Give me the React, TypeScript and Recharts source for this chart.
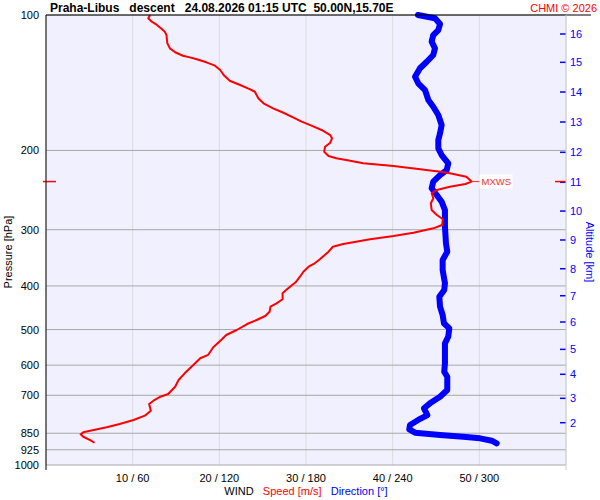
import { CartesianGrid, ReferenceDot, Scatter, ScatterChart, XAxis, YAxis } from "recharts";

const FONT = "'Liberation Sans', Arial, Helvetica, sans-serif";

// axes
const PRESSURE_TICKS = [100, 200, 300, 400, 500, 600, 700, 850, 925, 1000];
const SPEED_TICKS = [10, 20, 30, 40, 50];
const WIND_TICK_LABELS = ["10 / 60", "20 / 120", "30 / 180", "40 / 240", "50 / 300"];
const ALT_KM = [2, 3, 4, 5, 6, 7, 8, 9, 10, 11, 12, 13, 14, 15, 16];
const ALT_P = [805.4, 710.9, 628.7, 553.4, 481.1, 420.6, 366.3, 316.2, 272.7, 235.4, 201.9, 172.9, 148.3, 127.4, 110.2];

// wind speed [m/s] vs pressure [hPa]
const SPEED_P = [
  100, 101.7, 103.5, 105.2, 107.6, 108.9, 110.8, 115.6, 118.6, 121.0, 123.2, 124.2, 125.4, 127.4,
  129.6, 132.5, 135.9, 140.0, 143.1, 146.1, 148.1, 153.1, 157.1, 161.2, 164.9, 168.8, 172.6, 176.4,
  180.1, 184.8, 187.9, 192.2, 196.2, 201.3, 205.8, 208.2, 210.8, 213.6, 216.6, 220.2, 222.9, 224.8,
  228.8, 234.5, 237.5, 240.8, 244.8, 249.0, 255.5, 262.1, 271.3, 278.3, 284.4, 292.9, 297.9, 304.7,
  309.9, 315.1, 322.8, 327.3, 335.7, 349.1, 356.3, 362.6, 372.0, 381.6, 392.6, 407.0, 415.4, 428.3,
  437.2, 444.9, 456.4, 466.6, 476.2, 486.1, 501.2, 514.2, 525.7, 547.3, 569.4, 579.1, 599.5, 625.5,
  647.4, 669.9, 695.4, 705.1, 719.7, 731.9, 757.4, 777.0, 794.3, 810.7, 824.5, 836.0, 845.9, 854.7,
  865.3, 880.1, 892.3,
];
const SPEED_MS = [
  12.0, 11.8, 12.2, 12.8, 13.4, 13.7, 13.9, 14.0, 14.3, 14.9, 15.8, 16.6, 17.4, 18.5,
  19.5, 20.1, 20.5, 21.2, 22.4, 23.5, 24.1, 24.5, 25.1, 26.2, 27.4, 28.5, 29.5, 30.7,
  31.8, 32.8, 33.0, 32.8, 32.2, 32.1, 32.6, 33.5, 35.1, 36.6, 40.1, 43.2, 45.5, 46.6,
  48.5, 49.1, 48.4, 46.6, 45.1, 44.5, 44.7, 44.4, 44.5, 45.1, 45.8, 45.7, 44.7, 42.4,
  40.1, 37.4, 34.3, 33.1, 32.6, 31.6, 31.0, 30.3, 29.7, 29.3, 28.8, 27.8, 27.3, 27.3,
  26.6, 25.9, 25.8, 25.3, 24.3, 23.2, 22.0, 20.8, 20.3, 19.3, 18.7, 17.8, 17.0, 16.0,
  15.3, 14.9, 14.1, 13.2, 12.4, 11.9, 12.1, 11.4, 10.1, 8.5, 7.0, 5.5, 4.3, 4.0,
  4.3, 5.1, 5.6,
];

// wind direction [deg] vs pressure [hPa]
const DIR_P = [
  100, 101.7, 104.7, 108.0, 110.8, 114.6, 118.6, 122.7, 127.0, 131.3, 137.1, 141.8, 146.8, 154.5,
  159.9, 166.8, 175.6, 183.2, 189.6, 197.8, 204.7, 213.6, 221.1, 226.8, 234.6, 242.7, 251.2, 260.0,
  271.3, 295.3, 321.6, 335.7, 350.4, 368.6, 394.6, 408.3, 422.7, 444.9, 464.2, 484.3, 496.9, 518.6,
  536.5, 594.3, 620.4, 636.6, 681.3, 705.1, 729.4, 748.2, 774.3, 794.3, 815.0, 833.3, 847.7, 857.7,
  865.3, 872.5, 883.1, 895.2,
];
const DIR_DEG = [
  257.5, 269.3, 272.8, 271.6, 268.1, 267.0, 269.3, 268.1, 263.6, 258.9, 255.5, 257.7, 262.4, 264.7,
  268.1, 271.6, 273.9, 272.8, 271.6, 271.6, 273.9, 278.5, 277.4, 272.8, 268.1, 267.0, 270.5, 273.9,
  276.2, 276.2, 276.9, 277.8, 274.6, 274.6, 276.2, 275.7, 272.3, 272.8, 274.6, 275.5, 279.2, 278.5,
  276.2, 276.2, 275.7, 277.8, 277.8, 272.8, 265.8, 261.7, 264.0, 257.7, 252.0, 251.5, 255.5, 272.8,
  288.9, 300.5, 308.6, 312.0,
];

const MXWS_P = 234.5;
const MXWS_SPEED = 49.1;
const SPEED_MAX = 60;

const speedData = SPEED_P.map((p, i) => ({ p, v: SPEED_MS[i] }));
const dirData = DIR_P.map((p, i) => ({ p, v: DIR_DEG[i] }));

const LEFT_W = 46;
const RIGHT_W = 34;
const TOP = 15;
const BOTTOM_H = 35;
const PLOT_BOTTOM = 500 - BOTTOM_H;

function PressureTick({ x, y, payload }: any) {
  return (
    <text x={x - 7} y={y} dy={4} textAnchor="end" fontSize={11} fill="#000" fontFamily={FONT}>
      {payload.value}
    </text>
  );
}

function WindTick({ x, payload }: any) {
  const label = WIND_TICK_LABELS[SPEED_TICKS.indexOf(payload.value)];
  return (
    <text x={x} y={PLOT_BOTTOM + 17} textAnchor="middle" fontSize={11} fill="#000" fontFamily={FONT}>
      {label}
    </text>
  );
}

// altitude tick on the right edge of the plot
function altMark(km: number) {
  return ({ cx, cy }: any) => (
    <g>
      <line x1={cx - 6} x2={cx} y1={cy} y2={cy} stroke="#0000ff" strokeWidth={1.5} />
      <text x={cx + 4} y={cy} dy={4} fontSize={11} fill="#0000ff" fontFamily={FONT}>
        {km}
      </text>
    </g>
  );
}

function MxwsMark({ cx, cy }: any) {
  return (
    <g>
      <line x1={LEFT_W - 3} x2={LEFT_W + 10} y1={cy} y2={cy} stroke="#ff0000" strokeWidth={1.5} />
      <line x1={600 - RIGHT_W - 11} x2={600 - RIGHT_W} y1={cy} y2={cy} stroke="#ff0000" strokeWidth={1.5} />
      <line x1={cx} x2={cx + 10} y1={cy} y2={cy} stroke="#ff3030" strokeWidth={1} />
      <rect x={cx + 8} y={cy - 7} width={33} height={14} fill="#ffffff" />
      <text x={cx + 10} y={cy} dy={3.5} fontSize={9.5} fill="#ff3030" fontFamily={FONT}>
        MXWS
      </text>
    </g>
  );
}

const noDot = () => <g />;

export default function App() {
  return (
    <div style={{ position: "absolute", left: 0, top: 0, width: 600, height: 500, background: "#fff" }}>
      <ScatterChart
        width={600}
        height={500}
        margin={{ top: TOP, right: RIGHT_W, bottom: 0, left: 0 }}
        style={{ fontFamily: FONT }}
      >
        <CartesianGrid
          xAxisId="spd"
          yAxisId="p"
          horizontal={false}
          vertical
          stroke="#dcdcdc"
          fill="#f0f0ff"
          fillOpacity={1}
        />
        <CartesianGrid xAxisId="spd" yAxisId="p" horizontal vertical={false} stroke="#a8a8a8" />
        <XAxis
          xAxisId="spd"
          type="number"
          dataKey="v"
          domain={[0, SPEED_MAX]}
          ticks={SPEED_TICKS}
          interval={0}
          height={BOTTOM_H}
          axisLine={false}
          tickLine={false}
          tickSize={0}
          tickMargin={0}
          tick={<WindTick />}
        />
        <XAxis xAxisId="dir" type="number" dataKey="v" domain={[0, 360]} hide />
        <YAxis
          yAxisId="p"
          type="number"
          dataKey="p"
          scale="log"
          domain={[100, 1000]}
          reversed
          ticks={PRESSURE_TICKS}
          interval={0}
          width={LEFT_W}
          axisLine={false}
          tickLine={false}
          tickSize={0}
          tickMargin={0}
          tick={<PressureTick />}
        />
        <Scatter
          xAxisId="dir"
          yAxisId="p"
          data={dirData}
          fill="#0000ff"
          line={{ stroke: "#0000ff", strokeWidth: 6, strokeLinejoin: "round", strokeLinecap: "round" }}
          lineType="joint"
          shape={noDot}
          isAnimationActive={false}
        />
        <Scatter
          xAxisId="spd"
          yAxisId="p"
          data={speedData}
          fill="#ff0000"
          line={{ stroke: "#ff0000", strokeWidth: 2, strokeLinejoin: "round" }}
          lineType="joint"
          shape={noDot}
          isAnimationActive={false}
        />
        {ALT_P.map((p, i) => (
          <ReferenceDot
            key={ALT_KM[i]}
            xAxisId="spd"
            yAxisId="p"
            x={SPEED_MAX}
            y={p}
            shape={altMark(ALT_KM[i])}
          />
        ))}
        <ReferenceDot xAxisId="spd" yAxisId="p" x={MXWS_SPEED} y={MXWS_P} shape={<MxwsMark />} />
      </ScatterChart>
      <svg
        width={600}
        height={500}
        style={{ position: "absolute", left: 0, top: 0, pointerEvents: "none", fontFamily: FONT }}
      >
        <text x={50} y={12} fontSize={12} fontWeight="bold" fill="#000" style={{ whiteSpace: "pre" }}>
          {"Praha-Libus   descent   24.08.2026 01:15 UTC  50.00N,15.70E"}
        </text>
        <text x={597} y={12} fontSize={11} fill="#ff0000" textAnchor="end">
          CHMI © 2026
        </text>
        <line x1={LEFT_W} x2={591} y1={TOP} y2={TOP} stroke="#000" strokeWidth={1} />
        <line x1={LEFT_W} x2={LEFT_W} y1={TOP} y2={470} stroke="#000" strokeWidth={1} />
        <line x1={600 - RIGHT_W} x2={600 - RIGHT_W} y1={TOP} y2={470} stroke="#d0d0d0" strokeWidth={1} />
        <text x={11.5} y={252} fontSize={11} fill="#000" textAnchor="middle" transform="rotate(-90 11.5 252)">
          Pressure [hPa]
        </text>
        <text x={586} y={252} fontSize={11} fill="#0000ff" textAnchor="middle" transform="rotate(90 586 252)">
          Altitude [km]
        </text>
        <text x={306} y={495} fontSize={11} textAnchor="middle" style={{ whiteSpace: "pre" }}>
          <tspan fill="#000">{"WIND   "}</tspan>
          <tspan fill="#ff0000">{"Speed [m/s]"}</tspan>
          <tspan fill="#0000ff">{"   Direction [°]"}</tspan>
        </text>
      </svg>
    </div>
  );
}
